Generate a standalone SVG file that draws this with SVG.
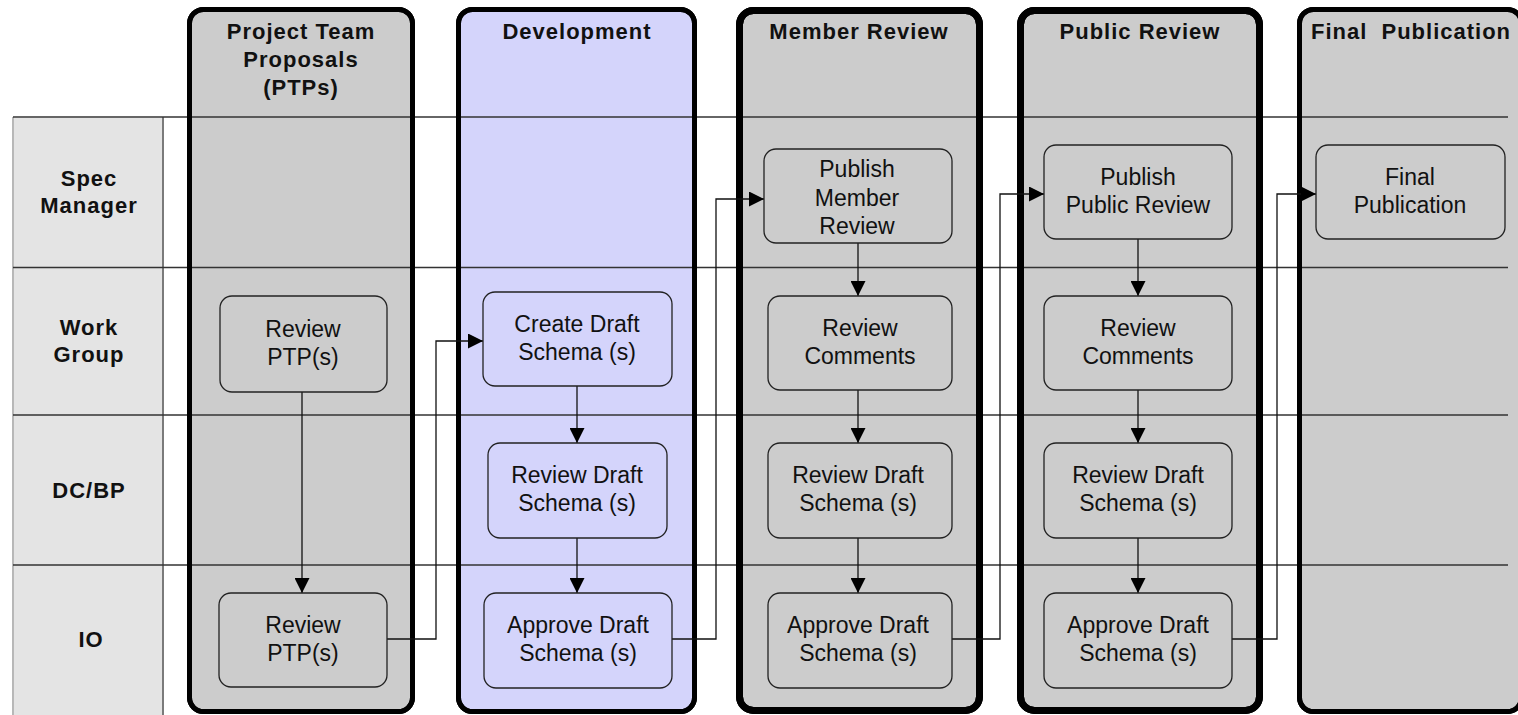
<svg xmlns="http://www.w3.org/2000/svg" width="1518" height="715" viewBox="0 0 1518 715">
<style>
.col{fill:#cccccc;stroke:#000;stroke-width:5}
.colb{fill:#cccccc;stroke:#000;stroke-width:7}
.dev{fill:#d4d4fb;stroke:#000;stroke-width:5}
.hdr{font-family:"Liberation Sans",Arial,sans-serif;font-weight:bold;font-size:22px;letter-spacing:1px;fill:#111;text-anchor:middle}
.lbl{font-family:"Liberation Sans",Arial,sans-serif;font-weight:bold;font-size:22px;letter-spacing:1px;fill:#111;text-anchor:middle}
.node rect{fill:none;stroke:#222;stroke-width:1.3}
.node text{font-family:"Liberation Sans",Arial,sans-serif;font-size:23px;fill:#111;text-anchor:middle}
.lane{stroke:#333;stroke-width:1.5;fill:none}
.conn path{fill:none;stroke:#111;stroke-width:1.3}
</style>
<defs>
<marker id="arr" markerUnits="userSpaceOnUse" markerWidth="15" markerHeight="15" refX="15" refY="7.5" orient="auto">
<path d="M0,0 L15,7.5 L0,15 z" fill="#000"/>
</marker>
</defs>
<rect width="1518" height="715" fill="#fff"/>

<!-- lane label column -->
<g id="lane-labels">
<rect x="14" y="118" width="148" height="600" fill="#e4e4e4"/>
<line x1="13" y1="117" x2="13" y2="715" stroke="#888" stroke-width="1.2"/>
<line x1="163" y1="117" x2="163" y2="715" stroke="#222" stroke-width="1.2"/>
<text class="lbl" x="89" y="186">Spec</text>
<text class="lbl" x="89" y="213">Manager</text>
<text class="lbl" x="89" y="335">Work</text>
<text class="lbl" x="89" y="362">Group</text>
<text class="lbl" x="89" y="498">DC/BP</text>
<text class="lbl" x="91" y="647">IO</text>
</g>

<!-- phase columns -->
<g id="phase-ptp"><rect class="col" x="189.5" y="9.5" width="223" height="702" rx="14"/></g>
<g id="phase-dev"><rect class="dev" x="458.5" y="9.5" width="236" height="702" rx="14"/></g>
<g id="phase-member"><rect class="colb" x="739.5" y="10.5" width="240" height="700" rx="14"/></g>
<g id="phase-public"><rect class="colb" x="1020.5" y="10.5" width="239" height="700" rx="14"/></g>
<g id="phase-final"><rect class="col" x="1299.5" y="9.5" width="222" height="702" rx="14"/></g>

<!-- lane lines -->
<g id="lanes">
<line class="lane" x1="13" y1="117" x2="1508" y2="117"/>
<line class="lane" x1="13" y1="267.5" x2="1508" y2="267.5"/>
<line class="lane" x1="13" y1="415" x2="1508" y2="415"/>
<line class="lane" x1="13" y1="565" x2="1508" y2="565"/>
</g>

<!-- redraw column borders over lane lines -->
<g id="borders" fill="none" stroke="#000">
<rect x="189.5" y="9.5" width="223" height="702" rx="14" stroke-width="5"/>
<rect x="458.5" y="9.5" width="236" height="702" rx="14" stroke-width="5"/>
<rect x="739.5" y="10.5" width="240" height="700" rx="14" stroke-width="7"/>
<rect x="1020.5" y="10.5" width="239" height="700" rx="14" stroke-width="7"/>
<rect x="1299.5" y="9.5" width="222" height="702" rx="14" stroke-width="5"/>
</g>

<!-- headers -->
<g id="headers">
<text class="hdr" x="301" y="39">Project Team</text>
<text class="hdr" x="301" y="67">Proposals</text>
<text class="hdr" x="301" y="95">(PTPs)</text>
<text class="hdr" x="577" y="39">Development</text>
<text class="hdr" x="859" y="39">Member Review</text>
<text class="hdr" x="1140" y="39">Public Review</text>
<text class="hdr" x="1411" y="39" xml:space="preserve">Final  Publication</text>
</g>

<!-- connectors -->
<g id="connectors" class="conn">
<path d="M302,392 V593" marker-end="url(#arr)"/>
<path d="M387,639 H436 V341 H483" marker-end="url(#arr)"/>
<path d="M577,386 V443" marker-end="url(#arr)"/>
<path d="M577,538 V593" marker-end="url(#arr)"/>
<path d="M672,639 H716 V199 H764" marker-end="url(#arr)"/>
<path d="M858,243 V296" marker-end="url(#arr)"/>
<path d="M858,390 V443" marker-end="url(#arr)"/>
<path d="M858,538 V593" marker-end="url(#arr)"/>
<path d="M952,639 H1000 V194 H1044" marker-end="url(#arr)"/>
<path d="M1138,239 V296" marker-end="url(#arr)"/>
<path d="M1138,390 V443" marker-end="url(#arr)"/>
<path d="M1138,538 V593" marker-end="url(#arr)"/>
<path d="M1232,639 H1277 V194 H1316" marker-end="url(#arr)"/>
</g>

<!-- nodes -->
<g id="n-ptp-review-wg" class="node"><rect x="220" y="296" width="167" height="96" rx="12"/>
<text x="303" y="337">Review</text><text x="303" y="365">PTP(s)</text></g>
<g id="n-ptp-review-io" class="node"><rect x="219" y="593" width="168" height="94" rx="12"/>
<text x="303" y="633">Review</text><text x="303" y="661">PTP(s)</text></g>

<g id="n-dev-create" class="node"><rect x="483" y="292" width="189" height="94" rx="12"/>
<text x="577" y="332">Create Draft</text><text x="577" y="360">Schema (s)</text></g>
<g id="n-dev-review" class="node"><rect x="488" y="443" width="179" height="95" rx="12"/>
<text x="577" y="483">Review Draft</text><text x="577" y="511">Schema (s)</text></g>
<g id="n-dev-approve" class="node"><rect x="484" y="593" width="188" height="95" rx="12"/>
<text x="578" y="633">Approve Draft</text><text x="578" y="661">Schema (s)</text></g>

<g id="n-mr-publish" class="node"><rect x="764" y="149" width="188" height="94" rx="12"/>
<text x="857" y="177">Publish</text><text x="857" y="206">Member</text><text x="857" y="234">Review</text></g>
<g id="n-mr-comments" class="node"><rect x="768" y="296" width="184" height="94" rx="12"/>
<text x="860" y="336">Review</text><text x="860" y="364">Comments</text></g>
<g id="n-mr-review" class="node"><rect x="768" y="443" width="184" height="95" rx="12"/>
<text x="858" y="483">Review Draft</text><text x="858" y="511">Schema (s)</text></g>
<g id="n-mr-approve" class="node"><rect x="768" y="593" width="184" height="95" rx="12"/>
<text x="858" y="633">Approve Draft</text><text x="858" y="661">Schema (s)</text></g>

<g id="n-pr-publish" class="node"><rect x="1044" y="145" width="188" height="94" rx="12"/>
<text x="1138" y="185">Publish</text><text x="1138" y="213">Public Review</text></g>
<g id="n-pr-comments" class="node"><rect x="1044" y="296" width="188" height="94" rx="12"/>
<text x="1138" y="336">Review</text><text x="1138" y="364">Comments</text></g>
<g id="n-pr-review" class="node"><rect x="1044" y="443" width="188" height="95" rx="12"/>
<text x="1138" y="483">Review Draft</text><text x="1138" y="511">Schema (s)</text></g>
<g id="n-pr-approve" class="node"><rect x="1044" y="593" width="188" height="95" rx="12"/>
<text x="1138" y="633">Approve Draft</text><text x="1138" y="661">Schema (s)</text></g>

<g id="n-final" class="node"><rect x="1316" y="145" width="189" height="94" rx="12"/>
<text x="1410" y="185">Final</text><text x="1410" y="213">Publication</text></g>
</svg>
